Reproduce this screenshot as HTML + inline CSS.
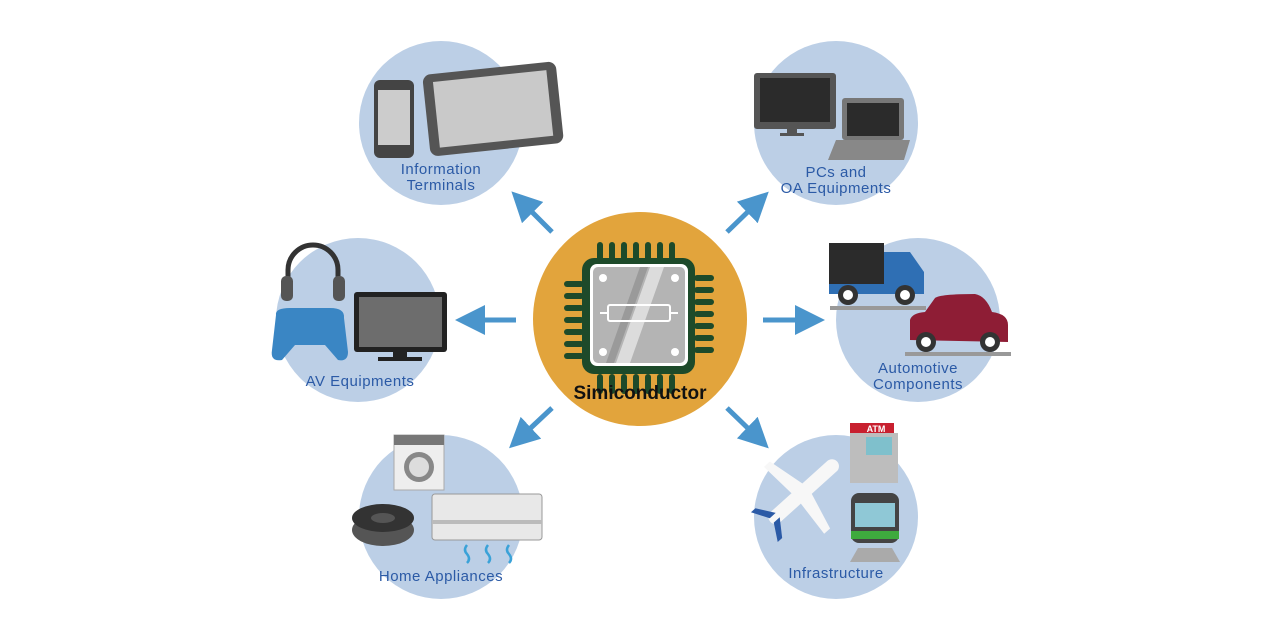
<!DOCTYPE html>
<html><head><meta charset="utf-8"><style>
html,body{margin:0;padding:0;background:#fff}
svg{display:block}
text{font-family:"Liberation Sans","DejaVu Sans",sans-serif}
.lb{fill:#2b5aa6;font-size:15px;text-anchor:middle;letter-spacing:0.5px}
</style></head><body>
<svg width="1280" height="640" viewBox="0 0 1280 640">
<defs>
<marker id="ah" markerWidth="6" markerHeight="6" refX="3" refY="3" orient="auto" markerUnits="strokeWidth">
<path d="M0,0 L6,3 L0,6 Z" fill="#4a95cc"/></marker>
</defs>
<g fill="#bccfe6">
<circle cx="441" cy="123" r="82"/><circle cx="836" cy="123" r="82"/>
<circle cx="358" cy="320" r="82"/><circle cx="918" cy="320" r="82"/>
<circle cx="441" cy="517" r="82"/><circle cx="836" cy="517" r="82"/>
</g>
<g stroke="#4a95cc" stroke-width="5" marker-end="url(#ah)">
<line x1="552" y1="232" x2="522" y2="202"/>
<line x1="516" y1="320" x2="470" y2="320"/>
<line x1="552" y1="408" x2="520" y2="438"/>
<line x1="727" y1="232" x2="758" y2="202"/>
<line x1="763" y1="320" x2="810" y2="320"/>
<line x1="727" y1="408" x2="758" y2="438"/>
</g>
<!-- center -->
<circle cx="640" cy="319" r="107" fill="#e2a43c"/>
<g fill="#1d4a2a">
<g id="pt"><rect x="597" y="242" width="6" height="20" rx="3"/><rect x="609" y="242" width="6" height="20" rx="3"/><rect x="621" y="242" width="6" height="20" rx="3"/><rect x="633" y="242" width="6" height="20" rx="3"/><rect x="645" y="242" width="6" height="20" rx="3"/><rect x="657" y="242" width="6" height="20" rx="3"/><rect x="669" y="242" width="6" height="20" rx="3"/></g>
<use href="#pt" transform="translate(0,132)"/>
<use href="#pt" transform="rotate(90 639 317)"/>
<use href="#pt" transform="rotate(-90 639 317)"/>
<rect x="582" y="258" width="113" height="116" rx="12"/>
</g>
<rect x="590" y="264" width="98" height="102" rx="7" fill="#fff"/>
<rect x="593" y="267" width="92" height="96" rx="5" fill="#b4b4b4"/>
<polygon points="650,267 664,267 630,363 616,363" fill="#dcdcdc"/>
<polygon points="640,267 648,267 614,363 606,363" fill="#9a9a9a"/>
<g fill="#fff"><circle cx="603" cy="278" r="4"/><circle cx="675" cy="278" r="4"/><circle cx="603" cy="352" r="4"/><circle cx="675" cy="352" r="4"/></g>
<rect x="608" y="305" width="62" height="16" rx="2" fill="none" stroke="#fff" stroke-width="2"/>
<line x1="600" y1="313" x2="608" y2="313" stroke="#fff" stroke-width="2"/><line x1="670" y1="313" x2="678" y2="313" stroke="#fff" stroke-width="2"/>
<text x="640" y="399" text-anchor="middle" font-size="19" font-weight="bold" fill="#111">Simiconductor</text>
<!-- info terminals -->
<rect x="374" y="80" width="40" height="78" rx="6" fill="#444"/><rect x="378" y="90" width="32" height="55" fill="#ccc"/>
<g transform="rotate(-6 492 108)"><rect x="426" y="68" width="134" height="82" rx="8" fill="#555"/><rect x="436" y="76" width="114" height="66" fill="#c9c9c9"/></g>
<text class="lb" x="441" y="174">Information</text><text class="lb" x="441" y="190">Terminals</text>
<!-- PCs -->
<rect x="754" y="73" width="82" height="56" rx="3" fill="#555"/><rect x="760" y="78" width="70" height="44" fill="#2b2b2b"/><rect x="787" y="129" width="10" height="5" fill="#555"/><rect x="780" y="133" width="24" height="3" fill="#555"/>
<rect x="842" y="98" width="62" height="42" rx="3" fill="#777"/><rect x="847" y="103" width="52" height="33" fill="#2b2b2b"/><polygon points="836,140 910,140 904,160 828,160" fill="#888"/>
<text class="lb" x="836" y="177">PCs and</text><text class="lb" x="836" y="193">OA Equipments</text>
<!-- AV -->
<path d="M288,300 L288,270 A25,25 0 0 1 338,270 L338,300" fill="none" stroke="#333" stroke-width="5"/>
<rect x="281" y="276" width="12" height="25" rx="5" fill="#555"/><rect x="333" y="276" width="12" height="25" rx="5" fill="#555"/>
<path d="M276,315 Q275,308 290,308 L330,308 Q345,308 344,318 L348,352 Q348,362 338,360 L325,345 L295,345 L282,360 Q270,362 272,350 Z" fill="#3a86c4"/>
<rect x="354" y="292" width="93" height="60" rx="3" fill="#222"/><rect x="359" y="297" width="83" height="50" fill="#6d6d6d"/><rect x="393" y="352" width="14" height="6" fill="#222"/><rect x="378" y="357" width="44" height="4" fill="#222"/>
<text class="lb" x="360" y="386">AV Equipments</text>
<!-- automotive -->
<rect x="829" y="243" width="55" height="45" fill="#2b2b2b"/><path d="M884,252 L910,252 L924,272 L924,292 L829,292 L829,288 L884,288 Z" fill="#2f6fb4"/><rect x="829" y="284" width="95" height="10" fill="#2f6fb4"/>
<circle cx="848" cy="295" r="10" fill="#333"/><circle cx="848" cy="295" r="5" fill="#fff"/><circle cx="905" cy="295" r="10" fill="#333"/><circle cx="905" cy="295" r="5" fill="#fff"/>
<rect x="830" y="306" width="96" height="4" fill="#999"/>
<path d="M910,340 L910,320 Q912,313 925,312 L935,298 Q940,294 975,294 Q986,296 992,312 Q1008,314 1008,325 L1008,342 Z" fill="#8e1d35"/>
<circle cx="926" cy="342" r="10" fill="#333"/><circle cx="926" cy="342" r="5" fill="#fff"/><circle cx="990" cy="342" r="10" fill="#333"/><circle cx="990" cy="342" r="5" fill="#fff"/>
<rect x="905" y="352" width="106" height="4" fill="#999"/>
<text class="lb" x="918" y="373">Automotive</text><text class="lb" x="918" y="389">Components</text>
<!-- home -->
<rect x="394" y="435" width="50" height="55" fill="#eee" stroke="#aaa"/><rect x="394" y="435" width="50" height="10" fill="#777"/><circle cx="419" cy="467" r="15" fill="#888"/><circle cx="419" cy="467" r="10" fill="#ddd"/>
<ellipse cx="383" cy="530" rx="31" ry="16" fill="#555"/><ellipse cx="383" cy="518" rx="31" ry="14" fill="#333"/><ellipse cx="383" cy="518" rx="12" ry="5" fill="#555"/>
<rect x="432" y="494" width="110" height="46" rx="3" fill="#e8e8e8" stroke="#999"/><rect x="432" y="520" width="110" height="4" fill="#bbb"/>
<g fill="none" stroke="#3aa2d8" stroke-width="2.5"><path d="M467,545 q-4,5 0,9 q4,5 0,9"/><path d="M488,545 q-4,5 0,9 q4,5 0,9"/><path d="M509,545 q-4,5 0,9 q4,5 0,9"/></g>
<text class="lb" x="441" y="581">Home Appliances</text>
<!-- infrastructure -->
<rect x="850" y="423" width="44" height="10" fill="#c8202f"/><text x="876" y="432" font-size="9" font-weight="bold" fill="#fff" text-anchor="middle">ATM</text>
<rect x="850" y="433" width="48" height="50" fill="#bdbdbd"/><rect x="866" y="437" width="26" height="18" fill="#7fc0cc"/>
<rect x="851" y="493" width="48" height="50" rx="8" fill="#444"/><rect x="855" y="503" width="40" height="24" fill="#8fc8d6"/><rect x="851" y="531" width="48" height="8" fill="#3eaa3e"/>
<polygon points="858,548 892,548 900,562 850,562" fill="#aaa"/>
<g transform="rotate(-42 800 495)"><rect x="760" y="488" width="90" height="14" rx="7" fill="#f7f7f7"/><polygon points="795,490 810,490 800,450 792,450" fill="#f7f7f7"/><polygon points="795,500 810,500 800,540 792,540" fill="#f7f7f7"/><polygon points="762,492 770,492 758,475 752,475" fill="#2b5aa6"/><polygon points="762,498 770,498 758,515 752,515" fill="#2b5aa6"/></g>
<text class="lb" x="836" y="578">Infrastructure</text>
</svg>
</body></html>
